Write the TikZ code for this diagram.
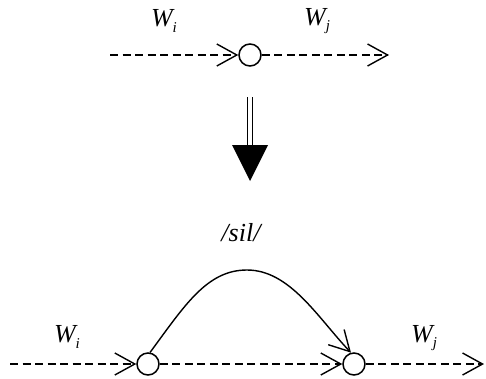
\documentclass[tikz,border=0pt]{standalone}
\usepackage{fontspec}
\setmainfont{Liberation Serif}
\usetikzlibrary{positioning, arrows.meta}
\tikzset{
  state/.style={circle, draw, line width=1.5pt, minimum size=22pt, inner sep=0pt},
  hop/.style={-{Straight Barb[length=20pt, width=22pt]}, line width=1.4pt, dash pattern=on 8pt off 4.5pt},
  skip/.style={-{Straight Barb[length=20pt, width=22pt]}, line width=1.4pt},
  lab/.style={font=\fontsize{26}{28}\selectfont\itshape, inner sep=0pt}
}
\newcommand{\wsub}[1]{W\raisebox{-0.22em}{\fontsize{15}{15}\selectfont #1}}

\begin{document}
\begin{tikzpicture}[x=1pt, y=-1pt]
    \useasboundingbox (0,0) rectangle (486,378);
    %% before: one word boundary
    \coordinate (a0) at (110,55);
    \node[state] (s0) at (250,55) {};
    \coordinate (b0) at (389,55);
    \draw[hop] (a0) -- (s0.west);
    \draw[hop] (s0.east) -- (b0);
    \node[lab] (wi0) at (164,21) {\wsub{i}};
    \node[lab] (wj0) at (317,21) {\wsub{j}};
    %% the transformation arrow
    \draw[double, double distance=3.5pt, line width=1.2pt] (250,97) -- (250,146);
    \fill (232,145) -- (268,145) -- (250,181) -- cycle;
    %% after: optional silence between the words
    \coordinate (a1) at (10,364);
    \node[state] (s1) at (148,364) {};
    \node[state] (s2) at (354,364) {};
    \coordinate (b1) at (484,364);
    \draw[hop] (a1) -- (s1.west);
    \draw[hop] (s1.east) -- (s2.west);
    \draw[hop] (s2.east) -- (b1);
    \draw[skip] (s1.80) .. controls (185,305) and (207,270) .. (247,270)
                .. controls (290,270) and (318,318) .. (s2.105);
    \node[lab] (sil) at (241,233) {/sil/};
    \node[lab] (wi1) at (67,337) {\wsub{i}};
    \node[lab] (wj1) at (424,338) {\wsub{j}};
\end{tikzpicture}
\end{document}
